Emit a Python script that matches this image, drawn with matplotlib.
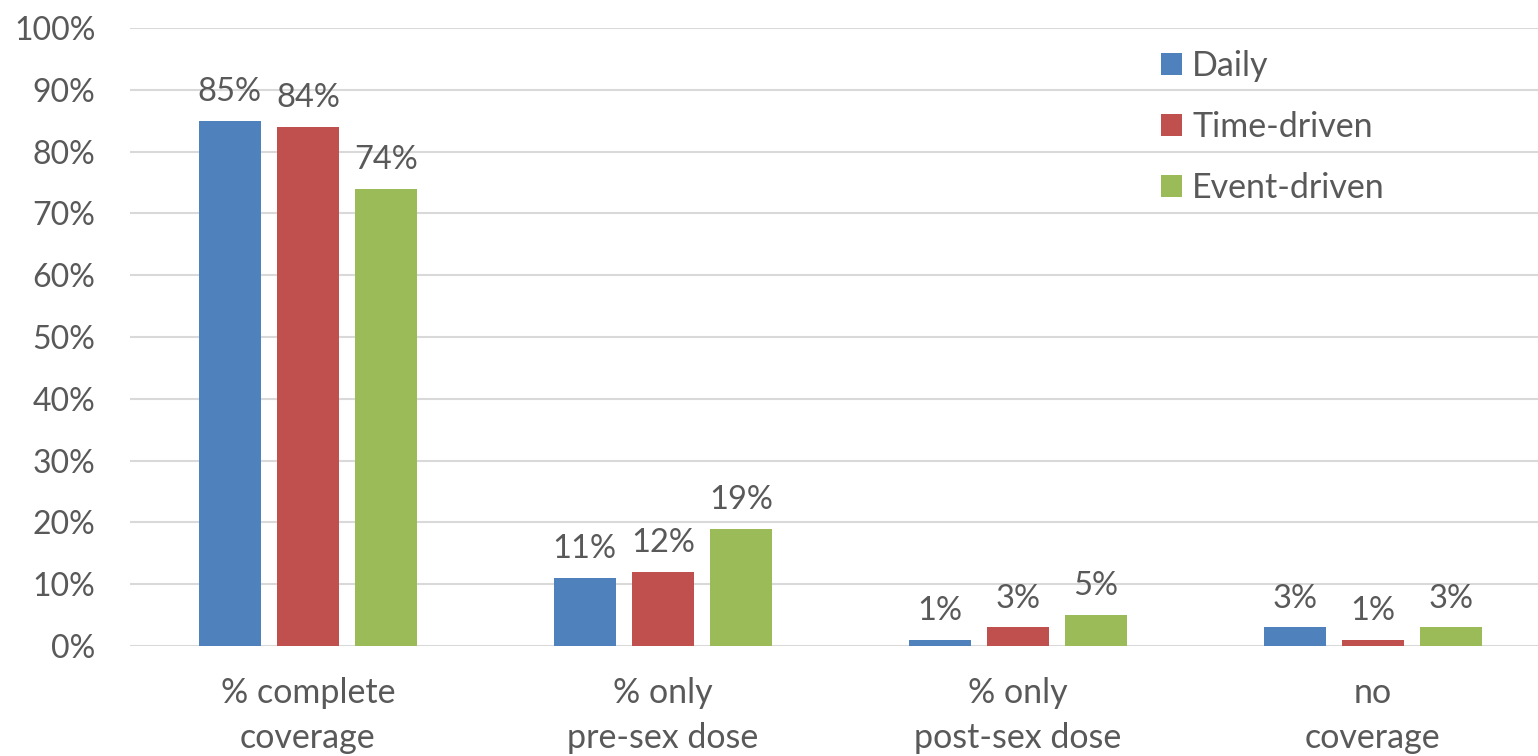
import numpy as np
import matplotlib.pyplot as plt

# --- Data ---
categories = ["% complete\ncoverage", "% only\npre-sex dose", "% only\npost-sex dose", "no\ncoverage"]
series_names = ["Daily", "Time-driven", "Event-driven"]
daily = [85, 11, 1, 3]
time_driven = [84, 12, 3, 1]
event_driven = [74, 19, 5, 3]
colors = ["#4F81BD", "#C0504D", "#9BBB59"]

text_color = "#595959"
plt.rcParams["font.family"] = ["Lato", "DejaVu Sans"]
plt.rcParams["font.size"] = 23

fig = plt.figure(figsize=(15.38, 7.56), dpi=100)
ax = fig.add_axes([130 / 1538, 110 / 756, 1 - 130 / 1538, (646 - 28) / 756])

x = np.arange(len(categories))
width = 0.175
offsets = [-0.22, 0.0, 0.22]
for vals, off, col, name in zip([daily, time_driven, event_driven], offsets, colors, series_names):
    bars = ax.bar(x + off, np.array(vals) / 100, width, color=col, label=name, zorder=3)
    for b, v in zip(bars, vals):
        ax.annotate(f"{v}%", (b.get_x() + b.get_width() / 2, b.get_height()),
                    xytext=(0, 10), textcoords="offset points",
                    ha="center", va="bottom", color=text_color, fontsize=23.5)

ax.set_ylim(0, 1)
ax.set_xlim(-0.501, 3.465)
ax.set_yticks(np.arange(0, 1.01, 0.1))
ax.set_yticklabels([f"{int(round(t * 100))}%" for t in np.arange(0, 1.01, 0.1)])
ax.set_xticks(x)
ax.set_xticklabels(categories, linespacing=1.5, fontsize=24.5)
ax.tick_params(axis="both", length=0, colors=text_color)
ax.tick_params(axis="y", labelsize=23, pad=25)
ax.tick_params(axis="x", pad=22)
for s in ax.spines.values():
    s.set_visible(False)
ax.grid(axis="y", color="#D9D9D9", linewidth=1.5, zorder=0)
ax.set_axisbelow(True)

leg = ax.legend(loc="upper left", bbox_to_anchor=(1161 / 1538, 1 - 50 / 756),
                bbox_transform=fig.transFigure, frameon=False, borderpad=0,
                borderaxespad=0, handlelength=0.62, handleheight=0.62,
                handletextpad=0.3, labelspacing=0.85, fontsize=24.5)
for t in leg.get_texts():
    t.set_color(text_color)

fig.savefig("out.png", dpi=100)
